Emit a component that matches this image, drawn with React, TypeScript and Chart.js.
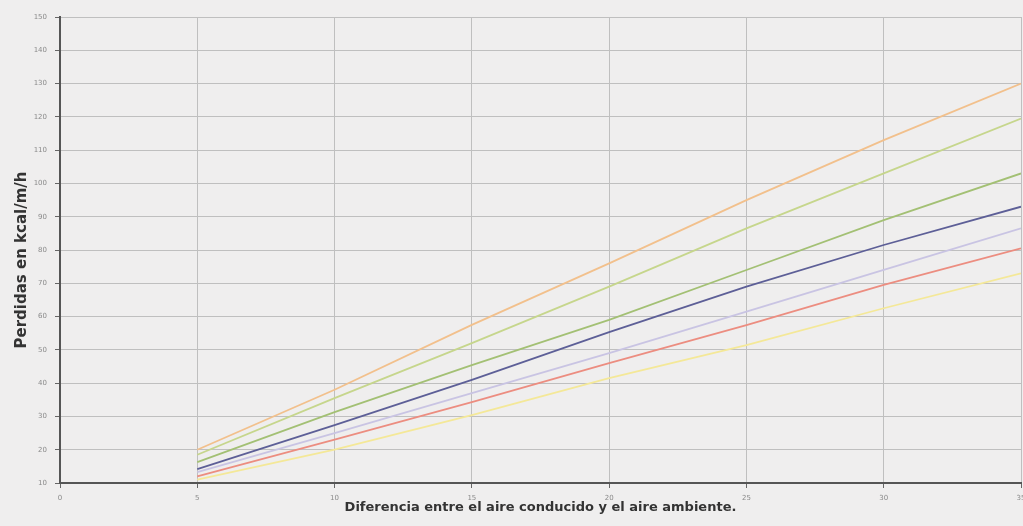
import React, { useEffect, useRef } from "react";
import { Chart, registerables } from "chart.js";

Chart.register(...registerables);

const xValues = [5, 10, 15, 20, 25, 30, 35];
const orange = [20, 38, 57.5, 76, 95, 113, 130];
const lightGreen = [18.5, 35.5, 52, 69, 86.5, 103, 119.5];
const green = [16.3, 31.3, 45.4, 59, 74, 89, 103];
const navy = [14.2, 27.4, 41, 55.3, 69, 81.5, 93];
const lavender = [13.3, 25, 37, 49, 61.5, 74, 86.5];
const red = [12, 23, 34.3, 46, 57.4, 69.5, 80.5];
const yellow = [11, 20, 30.4, 41.5, 51.4, 62.5, 73];

const yTitle = "Perdidas en kcal/m/h";
const xTitle = "Diferencia entre el aire conducido y el aire ambiente.";

const seriesList = [
  { name: "s1", values: orange, color: "#f2c08c" },
  { name: "s2", values: lightGreen, color: "#c6d68c" },
  { name: "s3", values: green, color: "#a3c074" },
  { name: "s4", values: navy, color: "#5d5f97" },
  { name: "s5", values: lavender, color: "#c9c4e3" },
  { name: "s6", values: red, color: "#ec8d80" },
  { name: "s7", values: yellow, color: "#f4e898" },
];

const bgPlugin = {
  id: "bg",
  beforeDraw(chart: any) {
    const ctx = chart.ctx;
    ctx.save();
    ctx.fillStyle = "#efeeee";
    ctx.fillRect(0, 0, chart.width, chart.height);
    ctx.restore();
  },
};

const yTitlePlugin = {
  id: "yTitle",
  afterDraw(chart: any) {
    const ctx = chart.ctx;
    const area = chart.chartArea;
    ctx.save();
    ctx.translate(22, (area.top + area.bottom) / 2 + 10);
    ctx.rotate(-Math.PI / 2);
    ctx.font = "bold 15px 'DejaVu Sans'";
    ctx.fillStyle = "#333";
    ctx.textAlign = "center";
    ctx.textBaseline = "middle";
    ctx.fillText(yTitle, 0, 0);
    ctx.restore();
  },
};

export default function App() {
  const ref = useRef<HTMLCanvasElement | null>(null);
  useEffect(() => {
    if (!ref.current) return;
    const chart = new Chart(ref.current, {
      type: "line",
      data: {
        datasets: seriesList.map((s) => ({
          label: s.name,
          data: xValues.map((x, i) => ({ x, y: s.values[i] })),
          borderColor: s.color,
          borderWidth: 1.8,
          pointRadius: 0,
          fill: false,
          tension: 0,
        })),
      },
      options: {
        animation: false,
        responsive: false,
        maintainAspectRatio: false,
        layout: { padding: { left: 0, right: 2, top: 17, bottom: 0 } },
        plugins: { legend: { display: false }, tooltip: { enabled: false } },
        scales: {
          x: {
            type: "linear",
            min: 0,
            max: 35,
            ticks: { stepSize: 5, color: "#8a8a8a", font: { size: 7, family: "DejaVu Sans" }, padding: 6 },
            grid: { color: "#bfbfbf", lineWidth: 1, tickLength: 5, tickColor: "#666" },
            border: { color: "#555", width: 2 },
            title: {
              display: true,
              text: xTitle,
              color: "#333",
              font: { size: 13, weight: "bold", family: "DejaVu Sans" },
              padding: { top: 0, bottom: 11 },
            },
            afterFit(scale: any) {
              scale.height = 43;
              scale.paddingLeft = 0;
              scale.paddingRight = 0;
            },
          },
          y: {
            min: 10,
            max: 150,
            ticks: { stepSize: 10, color: "#8a8a8a", font: { size: 7, family: "DejaVu Sans" }, padding: 8 },
            grid: { color: "#bfbfbf", lineWidth: 1, tickLength: 5, tickColor: "#666" },
            border: { color: "#555", width: 2 },
            title: { display: false },
            afterFit(scale: any) {
              scale.width = 60;
              scale.paddingTop = 0;
              scale.paddingBottom = 0;
            },
          },
        },
      },
      plugins: [bgPlugin, yTitlePlugin],
    } as any);
    return () => chart.destroy();
  }, []);
  return (
    <div style={{ position: "fixed", left: 0, top: 0, width: 1023, height: 526 }}>
      <canvas ref={ref} width={1023} height={526} style={{ display: "block" }} />
    </div>
  );
}
